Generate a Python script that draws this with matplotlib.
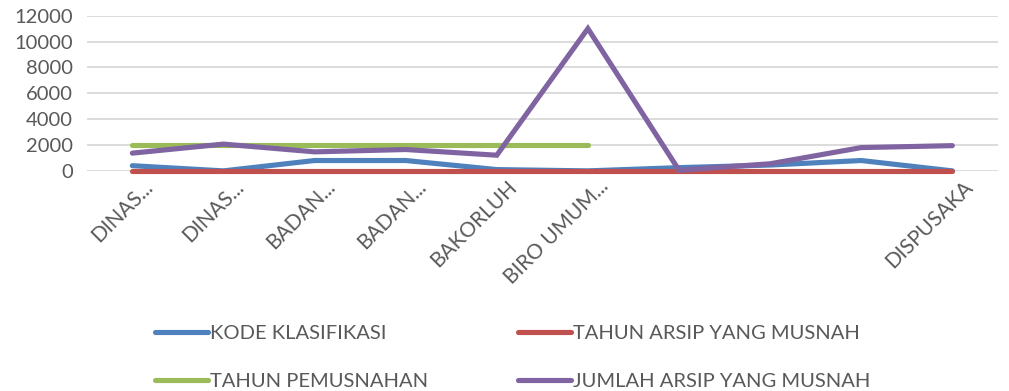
import numpy as np
import matplotlib
matplotlib.use("Agg")
import matplotlib.pyplot as plt
from matplotlib.transforms import ScaledTranslation

plt.rcParams['font.family'] = ['Lato', 'DejaVu Sans']

categories = ["DINAS...", "DINAS...", "BADAN...", "BADAN...", "BAKORLUH",
              "BIRO UMUM...", "", "", "", "DISPUSAKA"]
kode_klasifikasi = [400, 0, 800, 800, 100, 0, 250, 450, 800, 0]
tahun_arsip_musnah = [0, 0, 0, 0, 0, 0, 0, 0, 0, 0]
tahun_pemusnahan = [2000, 2000, 2000, 2000, 2000, 2000, np.nan, np.nan, np.nan, np.nan]
jumlah_arsip_musnah = [1370, 2070, 1470, 1650, 1210, 11000, 50, 550, 1800, 1950]
yticks = [0, 2000, 4000, 6000, 8000, 10000, 12000]

series = [
    ("KODE KLASIFIKASI", kode_klasifikasi, "#4f81bd"),
    ("TAHUN ARSIP YANG MUSNAH", tahun_arsip_musnah, "#c0504d"),
    ("TAHUN PEMUSNAHAN", tahun_pemusnahan, "#9bbb59"),
    ("JUMLAH ARSIP YANG MUSNAH", jumlah_arsip_musnah, "#8064a2"),
]

fig = plt.figure(figsize=(10.09, 3.91), dpi=100)
ax = fig.add_axes([0.086, 0.563, 0.903, 0.397])

x = np.arange(len(categories))
lines = {}
for name, vals, col in series:
    ln, = ax.plot(x, vals, color=col, lw=3.7, solid_capstyle='round',
                  solid_joinstyle='miter', label=name, clip_on=False)
    lines[name] = ln

ax.set_xlim(-0.5, len(categories) - 0.5)
ax.set_ylim(0, 12000)
ax.set_yticks(yticks)
ax.set_yticklabels([str(v) for v in yticks], fontsize=14.5, color='#595959')
ax.yaxis.grid(True, color='#d9d9d9', lw=1.3)
ax.set_axisbelow(True)
for s in ax.spines.values():
    s.set_visible(False)
ax.tick_params(axis='y', length=0, pad=10)
ax.tick_params(axis='x', length=0, pad=4)
ax.set_xticks(x)
ax.set_xticklabels(categories, rotation=45, ha='right', rotation_mode='anchor',
                   fontsize=15, color='#595959')
shift = ScaledTranslation(10 / 100, 0, fig.dpi_scale_trans)
for lbl in ax.get_xticklabels():
    lbl.set_transform(lbl.get_transform() + shift)

# legend laid out row by row: column-major order for matplotlib
order = ["KODE KLASIFIKASI", "TAHUN PEMUSNAHAN",
         "TAHUN ARSIP YANG MUSNAH", "JUMLAH ARSIP YANG MUSNAH"]
fig.legend([lines[n] for n in order], order, loc='upper left',
           bbox_to_anchor=(0.146, 0.19), ncol=2, frameon=False, fontsize=14.5,
           labelcolor='#595959', handlelength=2.6, handletextpad=0.1,
           columnspacing=4.5, labelspacing=1.55, borderaxespad=0)

fig.savefig("out.png", dpi=100)
